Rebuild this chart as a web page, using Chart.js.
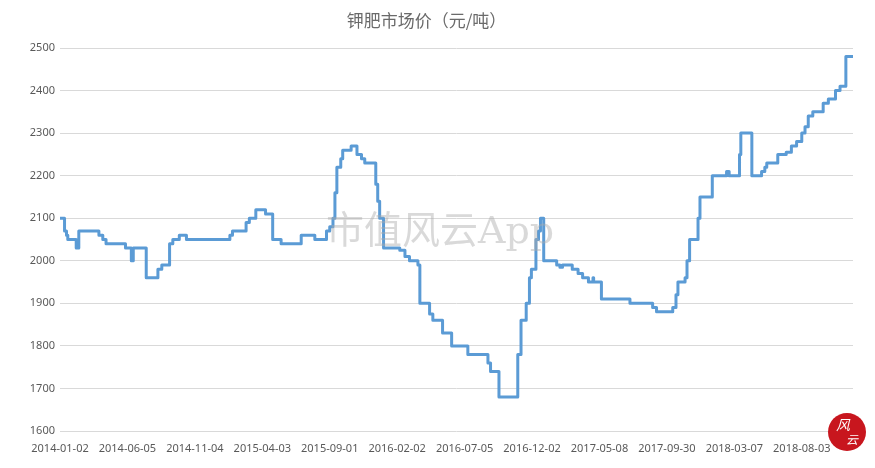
<!DOCTYPE html>
<html>
<head>
<meta charset="utf-8">
<script src="https://cdn.jsdelivr.net/npm/chart.js@4"></script>
<style>
  html, body { margin: 0; padding: 0; background: #ffffff; }
  #wrap { width: 875px; height: 468px; }
</style>
</head>
<body>
<div id="wrap"><canvas id="c" width="875" height="468"></canvas></div>
<script>
// Chart title and tick labels
const chartTitle = '钾肥市场价（元/吨）';
const tickLabels = ['2014-01-02','2014-06-05','2014-11-04','2015-04-03','2015-09-01','2016-02-02',
                    '2016-07-05','2016-12-02','2017-05-08','2017-09-30','2018-03-07','2018-08-03'];
const daysPerLabel = 104;     // trading days between two axis labels
const lastDay = 1223;         // index of the last observation

// Price changes: day index (trading days since 2014-01-02) and new price (元/吨)
const changeDays = [0, 7, 10, 12, 25, 29, 60, 66, 71, 101, 110, 113, 133, 151, 157, 169, 174, 184, 195,
  262, 266, 287, 292, 302, 317, 328, 341, 372, 393, 411, 416, 421, 424, 427, 433, 436, 449, 458, 465, 470,
  487, 490, 493, 499, 524, 532, 539, 552, 555, 570, 575, 590, 604, 629, 660, 664, 677,
  706, 711, 719, 724, 727, 734, 738, 741, 746, 766, 771, 775, 790, 799, 806, 815, 822, 823,
  835, 879, 914, 920, 945, 950, 953, 964, 967, 971, 984, 987, 1006, 1028, 1032, 1048, 1050,
  1067, 1082, 1087, 1090, 1107, 1120, 1128, 1136, 1144, 1149, 1154, 1161, 1177, 1185, 1196, 1203, 1212, 1223];
const changePrices = [2100, 2070, 2060, 2050, 2030, 2070, 2060, 2050, 2040, 2030, 2000, 2030, 1960, 1980, 1990, 2040, 2050, 2060, 2050,
  2060, 2070, 2090, 2100, 2120, 2110, 2050, 2040, 2060, 2050, 2070, 2080, 2100, 2160, 2220, 2240, 2260, 2270, 2250, 2240, 2230,
  2180, 2140, 2100, 2030, 2025, 2010, 2000, 1990, 1900, 1875, 1860, 1830, 1800, 1780, 1760, 1740, 1680,
  1780, 1860, 1900, 1960, 1980, 2050, 2070, 2100, 2000, 1990, 1985, 1990, 1980, 1970, 1960, 1950, 1960, 1950,
  1910, 1900, 1890, 1880, 1890, 1920, 1950, 1960, 2000, 2050, 2100, 2150, 2200, 2210, 2200, 2250, 2300,
  2200, 2210, 2220, 2230, 2250, 2255, 2270, 2280, 2300, 2315, 2340, 2350, 2370, 2380, 2400, 2410, 2480, 2480];

const yTicks = { min: 1600, max: 2500, step: 100 };
const watermark = '市值风云App';
const logoText = ['风', '云'];

const points = changeDays.map((d, i) => ({ x: d, y: changePrices[i] }));

const overlay = {
  id: 'overlay',
  afterDraw(chart) {
    const ctx = chart.ctx;
    ctx.save();
    // watermark
    ctx.font = '38px "DejaVu Serif", "Noto Sans CJK SC", serif';
    ctx.fillStyle = 'rgba(170,170,170,0.45)';
    ctx.textAlign = 'center';
    ctx.textBaseline = 'middle';
    ctx.fillText(watermark, 440, 233);
    // logo
    const cx = chart.width - 28, cy = chart.height - 36;
    ctx.beginPath();
    ctx.arc(cx, cy, 19, 0, Math.PI * 2);
    ctx.fillStyle = '#c8161e';
    ctx.fill();
    ctx.fillStyle = '#ffffff';
    ctx.font = 'italic 14px "Noto Sans CJK SC", sans-serif';
    ctx.fillText(logoText[0], cx - 4, cy - 7);
    ctx.font = 'italic 12px "Noto Sans CJK SC", sans-serif';
    ctx.fillText(logoText[1], cx + 5, cy + 7);
    ctx.restore();
  }
};

new Chart(document.getElementById('c'), {
  type: 'line',
  data: {
    datasets: [{
      data: points,
      stepped: 'before',
      borderColor: '#5b9bd5',
      borderWidth: 3,
      borderJoinStyle: 'round',
      borderCapStyle: 'round',
      pointRadius: 0,
      fill: false,
      tension: 0
    }]
  },
  options: {
    responsive: false,
    animation: false,
    layout: { padding: { left: 0, right: 22, top: 0, bottom: 0 } },
    plugins: {
      legend: { display: false },
      tooltip: { enabled: false },
      title: {
        display: true,
        text: chartTitle,
        color: '#6a6a6a',
        font: { family: '"Noto Sans CJK SC", sans-serif', size: 17, weight: 'normal', lineHeight: 1.2 },
        padding: { top: 10, bottom: 17.6 }
      }
    },
    scales: {
      x: {
        type: 'linear',
        min: 0,
        max: lastDay,
        grid: { display: false },
        border: { display: false },
        afterBuildTicks(scale) {
          scale.ticks = tickLabels.map((_, i) => ({ value: i * daysPerLabel }));
        },
        afterFit(scale) { scale.height = 37; },
        ticks: {
          autoSkip: false,
          maxRotation: 0,
          padding: 3,
          color: '#595959',
          font: { family: '"Noto Sans", sans-serif', size: 11 },
          callback: (v) => tickLabels[Math.round(v / daysPerLabel)]
        }
      },
      y: {
        min: yTicks.min,
        max: yTicks.max,
        grid: { color: '#d9d9d9', lineWidth: 1, drawTicks: false },
        border: { display: false },
        afterFit(scale) { scale.width = 60; },
        ticks: {
          stepSize: yTicks.step,
          padding: 5,
          color: '#595959',
          font: { family: '"Noto Sans", sans-serif', size: 11 },
          callback: (v) => String(v)
        }
      }
    }
  },
  plugins: [overlay]
});
</script>
</body>
</html>
